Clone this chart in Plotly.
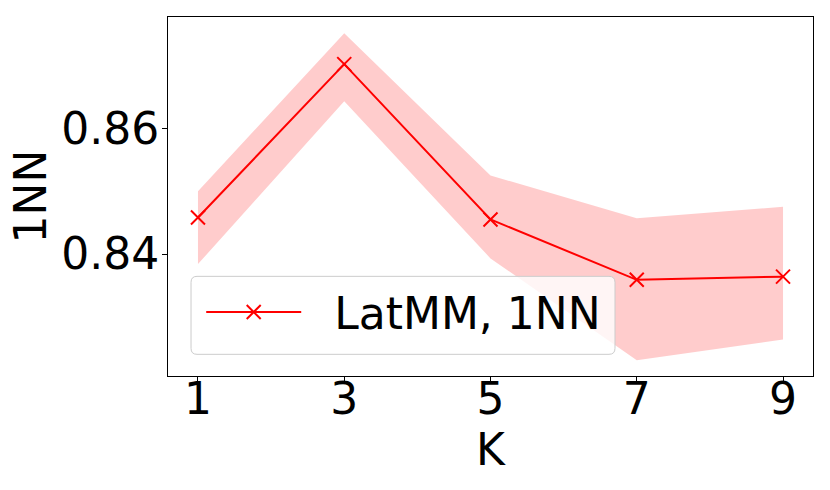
import plotly.graph_objects as go

K = [1, 3, 5, 7, 9]
mean_1nn = [0.8458, 0.8702, 0.8455, 0.8359, 0.8364]
upper_1nn = [0.8500, 0.8751, 0.8525, 0.8457, 0.8475]
lower_1nn = [0.8384, 0.8643, 0.8393, 0.8231, 0.8264]
y_ticks = [0.84, 0.86]
x_ticks = [1, 3, 5, 7, 9]

FONT = "DejaVu Sans"

fig = go.Figure()
fig.add_trace(go.Scatter(
    x=K + K[::-1],
    y=upper_1nn + lower_1nn[::-1],
    fill="toself",
    fillcolor="rgba(255,0,0,0.2)",
    line=dict(width=0),
    mode="lines",
    hoverinfo="skip",
    showlegend=False,
))
fig.add_trace(go.Scatter(
    x=K, y=mean_1nn,
    mode="lines+markers",
    name="\u00a0\u00a0LatMM, 1NN",
    line=dict(color="red", width=2),
    marker=dict(symbol="x-thin", size=14, color="red",
                line=dict(color="red", width=2)),
))

# legend frame (rounded, semi-transparent like matplotlib)
x0, x1 = 0.0357, 0.693
y0, y1 = 0.0604, 0.2776
rx, ry = 6 / 645, 6 / 359.2
path = (f"M {x0+rx},{y0} L {x1-rx},{y0} Q {x1},{y0} {x1},{y0+ry} "
        f"L {x1},{y1-ry} Q {x1},{y1} {x1-rx},{y1} "
        f"L {x0+rx},{y1} Q {x0},{y1} {x0},{y1-ry} "
        f"L {x0},{y0+ry} Q {x0},{y0} {x0+rx},{y0} Z")
fig.add_shape(type="path", path=path, xref="paper", yref="paper",
              fillcolor="rgba(255,255,255,0.8)",
              line=dict(color="#cccccc", width=1), layer="above")

fig.update_layout(
    width=830, height=490,
    margin=dict(l=168, r=17, t=16.5, b=114.3),
    plot_bgcolor="white", paper_bgcolor="white",
    font=dict(family=FONT, size=44, color="black"),
    legend=dict(
        x=0.0515, y=0.177, xanchor="left", yanchor="middle",
        bgcolor="rgba(0,0,0,0)",
        borderwidth=0,
        font=dict(family=FONT, size=44, color="black"),
        itemwidth=95,
    ),
    showlegend=True,
)
fig.update_xaxes(
    range=[0.59, 9.41],
    tickvals=x_ticks,
    ticktext=[str(v) for v in x_ticks],
    ticks="outside", ticklen=5, tickwidth=1, tickcolor="black",
    showline=True, linecolor="black", linewidth=1, mirror=True,
    showgrid=False, zeroline=False, automargin=False,
    ticklabelstandoff=-21,
    title=dict(text="K", font=dict(size=44), standoff=5),
    tickfont=dict(size=44),
)
fig.update_yaxes(
    range=[0.8206, 0.8777],
    tickvals=y_ticks,
    ticktext=["0.84", "0.86"],
    ticks="outside", ticklen=5, tickwidth=1, tickcolor="black",
    showline=True, linecolor="black", linewidth=1, mirror=True,
    showgrid=False, zeroline=False, automargin=False,
    ticklabelstandoff=-6,
    title=dict(text="1NN", font=dict(size=44), standoff=0),
    tickfont=dict(size=44),
)

fig.write_html("out.html", config={"displayModeBar": False},
               post_script="document.body.style.margin='0';")
